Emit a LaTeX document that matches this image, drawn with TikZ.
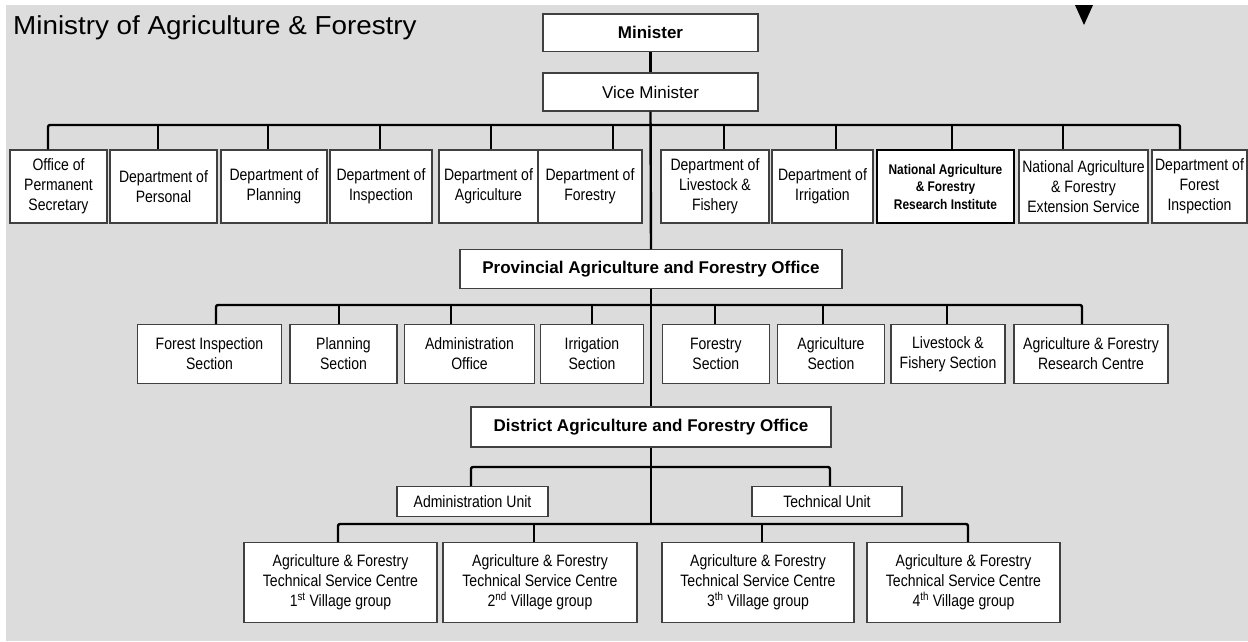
\documentclass[tikz,border=0pt]{standalone}
\usepackage{fontspec}
\setmainfont{Liberation Sans}
\newfontfamily\nar[FakeStretch=0.85]{Liberation Sans}
\newfontfamily\widefont[FakeStretch=1.07]{Liberation Sans}
\definecolor{bgc}{RGB}{220,220,220}
\begin{document}
\begin{tikzpicture}[x=1pt,y=-1pt,
  box/.style={draw=black!75, line width=1.1pt, fill=white, inner sep=1pt, align=center,
    font=\nar\fontsize{16.5}{20}\selectfont},
  hdr/.style={box, font=\bfseries\fontsize{17}{20}\selectfont},
  rowA/.style={box, minimum height=73pt},
  rowB/.style={box, minimum height=58.5pt},
  rowD/.style={box, minimum height=80pt},
  conn/.style={line width=2.4pt, line join=round, rounded corners=2pt}]
\useasboundingbox (0,0) rectangle (1248,641);
\fill[bgc] (6,5) rectangle (1248,641);

% title and marker
\node[font=\widefont\fontsize{26}{30}\selectfont, anchor=base west, inner sep=0] (title) at (13,34) {Ministry of Agriculture \& Forestry};
\fill (1075,5) -- (1093,5) -- (1084,25) -- cycle;

% coordinates for buses
\coordinate (a1) at (48,125);  \coordinate (a2) at (158,125); \coordinate (a3) at (268,125);
\coordinate (a4) at (380,125); \coordinate (a5) at (491,125); \coordinate (a6) at (613,125);
\coordinate (a7) at (724,125); \coordinate (a8) at (836,125); \coordinate (a9) at (952,125);
\coordinate (a10) at (1063,125); \coordinate (a11) at (1180,125);
\coordinate (c1) at (216,305); \coordinate (c2) at (339,305); \coordinate (c3) at (451,305);
\coordinate (c4) at (592,305); \coordinate (c5) at (715,305); \coordinate (c6) at (823,305);
\coordinate (c7) at (947,305); \coordinate (c8) at (1082,305);
\coordinate (d1) at (471,467); \coordinate (d2) at (830,467);
\coordinate (e1) at (338,524); \coordinate (e2) at (534,524); \coordinate (e3) at (762,524);
\coordinate (e4) at (968,524); \coordinate (h4) at (651,524);

% top
\node[hdr, minimum width=215pt, minimum height=37.5pt] (min) at (650.5,32.75) {Minister};
\node[box, font=\fontsize{17}{20}\selectfont, minimum width=215pt, minimum height=38pt] (vm) at (650.5,92) {Vice Minister};

% row 1
\node[rowA, minimum width=97pt]  (b1) at (58.5,186.5) {Office of\\Permanent\\Secretary};
\node[rowA, minimum width=107pt] (b2) at (163.5,186.5) {Department of\\Personal};
\node[rowA, minimum width=106pt] (b3) at (274,186.5) {Department of\\Planning};
\node[rowA, minimum width=102pt] (b4) at (381,186.5) {Department of\\Inspection};
\node[rowA, minimum width=99pt]  (b5) at (488.5,186.5) {Department of\\Agriculture};
\node[rowA, minimum width=104pt] (b6) at (590,186.5) {Department of\\Forestry};
\node[rowA, minimum width=108pt] (b7) at (715,186.5) {Department of\\Livestock \&\\Fishery};
\node[rowA, minimum width=101pt] (b8) at (822.5,186.5) {Department of\\Irrigation};
\node[rowA, minimum width=137pt, line width=2.8pt, draw=black, font=\nar\bfseries\fontsize{14}{17.5}\selectfont] (b9) at (945.5,186.5) {National Agriculture\\\& Forestry\\Research Institute};
\node[rowA, minimum width=129pt] (b10) at (1083.5,186.5) {National Agriculture\\\& Forestry\\Extension Service};
\node[rowA, minimum width=95pt]  (b11) at (1199.5,186.5) {Department of\\Forest\\Inspection};

% provincial
\node[hdr, minimum width=382pt, minimum height=38.5pt] (prov) at (651,268.8) {Provincial Agriculture and Forestry Office};

% row 2
\node[rowB, minimum width=144pt]   (p1) at (209.5,354) {Forest Inspection\\Section};
\node[rowB, minimum width=107pt]   (p2) at (343.5,354) {Planning\\Section};
\node[rowB, minimum width=130pt]   (p3) at (469.5,354) {Administration\\Office};
\node[rowB, minimum width=103pt]   (p4) at (592,354) {Irrigation\\Section};
\node[rowB, minimum width=106.5pt] (p5) at (715.8,354) {Forestry\\Section};
\node[rowB, minimum width=106.5pt] (p6) at (831,354) {Agriculture\\Section};
\node[rowB, minimum width=114pt]   (p7) at (948,354) {Livestock \&\\Fishery Section};
\node[rowB, minimum width=154pt]   (p8) at (1091,354) {Agriculture \& Forestry\\Research Centre};

% district
\node[hdr, minimum width=360pt, minimum height=40pt] (dist) at (651,427) {District Agriculture and Forestry Office};
\node[box, minimum width=151pt, minimum height=30pt] (au) at (472.5,501.5) {Administration Unit};
\node[box, minimum width=150pt, minimum height=30pt] (tu) at (827,501.5) {Technical Unit};

% row 4
\node[rowD, minimum width=193pt] (v1) at (340.5,582.7) {Agriculture \& Forestry\\Technical Service Centre\\1\textsuperscript{st} Village group};
\node[rowD, minimum width=194pt] (v2) at (540,582.7) {Agriculture \& Forestry\\Technical Service Centre\\2\textsuperscript{nd} Village group};
\node[rowD, minimum width=192pt] (v3) at (758,582.7) {Agriculture \& Forestry\\Technical Service Centre\\3\textsuperscript{th} Village group};
\node[rowD, minimum width=193pt] (v4) at (963.5,582.7) {Agriculture \& Forestry\\Technical Service Centre\\4\textsuperscript{th} Village group};

% connectors
\draw[conn] (min) -- (vm);
\draw[conn] (vm.south) -- (prov.north);
\draw[conn] (prov.south) -- (dist.north);
\draw[conn] (dist.south) -- (h4);

\draw[conn] (b1.north -| a1) -- (a1) -- (a11) -- (b11.north -| a11);
\foreach \i in {2,...,10} \draw[conn] (a\i) -- (b\i.north -| a\i);

\draw[conn] (p1.north -| c1) -- (c1) -- (c8) -- (p8.north -| c8);
\foreach \i in {2,...,7} \draw[conn] (c\i) -- (p\i.north -| c\i);

\draw[conn] (au.north -| d1) -- (d1) -- (d2) -- (tu.north -| d2);

\draw[conn] (v1.north -| e1) -- (e1) -- (e4) -- (v4.north -| e4);
\draw[conn] (e2) -- (v2.north -| e2);
\draw[conn] (e3) -- (v3.north -| e3);
\end{tikzpicture}
\end{document}
